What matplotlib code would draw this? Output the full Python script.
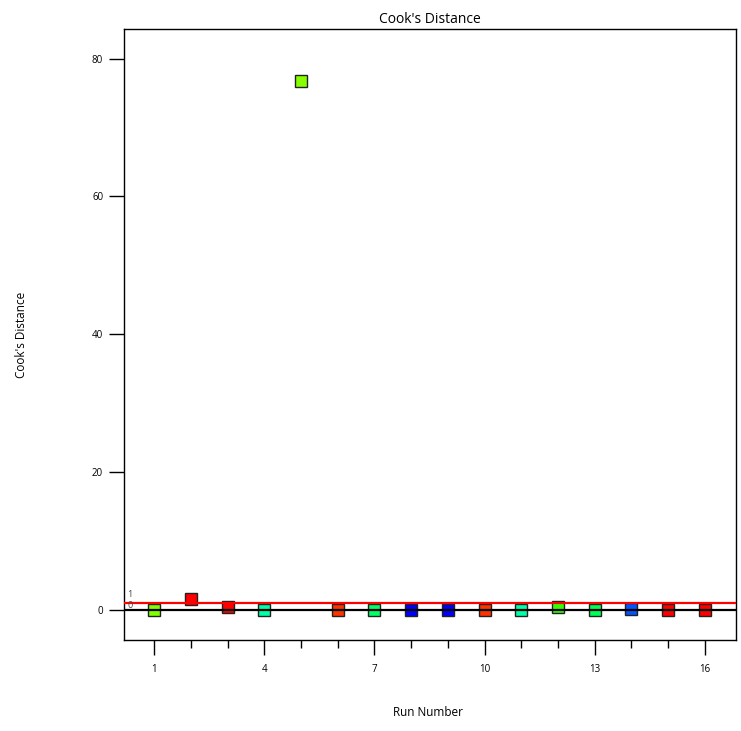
import numpy as np
import matplotlib.pyplot as plt
from matplotlib.ticker import MultipleLocator, FixedLocator

plt.rcParams['font.family'] = ['Open Sans', 'DejaVu Sans']

# Cook's distance por corrida
run = np.arange(1, 17)
cooks = [0.03, 1.65, 0.48, 0.05, 76.8, 0.04, 0.03, 0.02,
         0.02, 0.04, 0.05, 0.42, 0.03, 0.15, 0.03, 0.03]
colores = ['#80ff00', '#ff0000', '#ff0000', '#00ffaa', '#88ff00', '#ff3300',
           '#00ff66', '#0000ff', '#0000ff', '#ff3300', '#00ffaa', '#33ff00',
           '#00ff55', '#0055ff', '#ff0000', '#ff0000']
limite = 1.0

fig = plt.figure(figsize=(7.41, 7.31), dpi=100)
ax = fig.add_axes([124/741, 91/731, 612/741, 611/731])

for xi, yi, c in zip(run, cooks, colores):
    ax.plot(xi, yi, 's', ms=8.5, mfc=c, mec='#222222', mew=1.0, zorder=2)

ax.axhline(0, color='black', lw=1.6, zorder=3)
ax.axhline(limite, color='red', lw=1.6, zorder=3)
ax.text(0.27, limite + 0.55, '1', fontsize=6.5, color='#444444', va='bottom', ha='left')
ax.text(0.27, 0.05, '0', fontsize=6.5, color='#444444', va='bottom', ha='left')

ax.set_xlim(0.18, 16.85)
ax.set_ylim(-4.35, 84.3)
ax.xaxis.set_major_locator(FixedLocator([1, 4, 7, 10, 13, 16]))
ax.xaxis.set_minor_locator(MultipleLocator(1))
ax.yaxis.set_major_locator(FixedLocator([0, 20, 40, 60, 80]))
ax.tick_params(axis='x', which='major', length=11, width=1, pad=6, labelsize=7)
ax.tick_params(axis='x', which='minor', length=6, width=1)
ax.tick_params(axis='y', which='major', length=11, width=1, pad=4, labelsize=7)
for s in ax.spines.values():
    s.set_linewidth(1)

ax.set_title("Cook's Distance", fontsize=10, pad=4)
fig.text(428/741, 1 - 713/731, 'Run Number', fontsize=8.5, ha='center', va='center')
fig.text(22/741, 1 - 335/731, "Cook's Distance", fontsize=8.5, rotation=90,
         ha='center', va='center')

plt.savefig('out.png', dpi=100)
